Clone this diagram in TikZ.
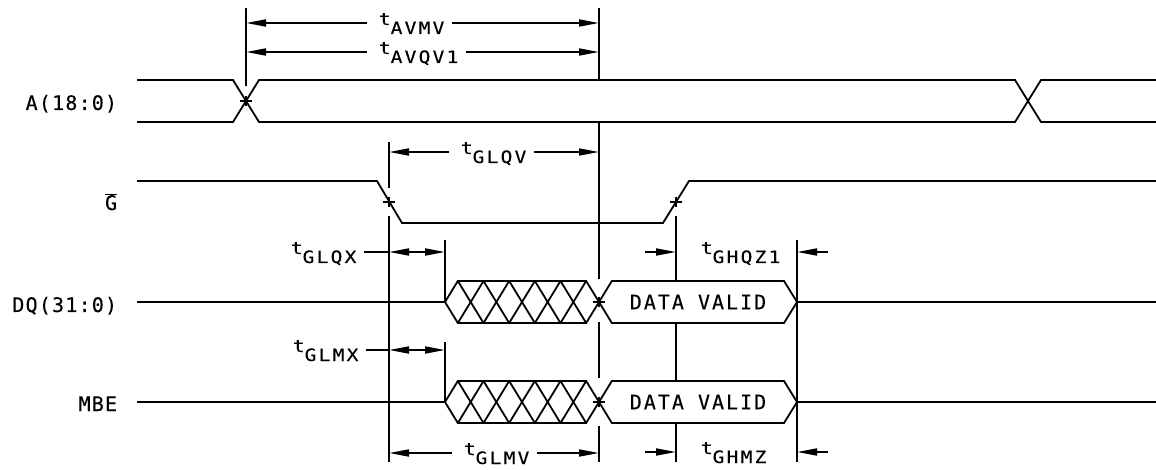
\documentclass[tikz,border=0pt]{standalone}
\usepackage{fontspec}
\usetikzlibrary{arrows.meta,calc}
\newfontfamily\labA{DejaVu Sans Mono}[LetterSpace=6,FakeBold=0.2]
\newfontfamily\labB{DejaVu Sans Mono}[FakeStretch=1.15,LetterSpace=13,FakeBold=0.2]
\newfontfamily\labC{DejaVu Sans Mono}[LetterSpace=10,FakeBold=0.2]
\newcommand\tsub[1]{{\labB\fontsize{17}{17}\selectfont t\raisebox{-9pt}[0pt][0pt]{#1}\rule[-10pt]{0pt}{24pt}}}
\begin{document}
\begin{tikzpicture}[x=1pt,y=-1pt,line width=1.8pt,
  tip/.tip={Triangle[length=20pt,width=7pt]},
  dimarr/.style={-tip},
  dblarr/.style={tip-tip},
  tlab/.style={inner sep=0pt,anchor=west},
  siglab/.style={inner sep=0pt,anchor=base east,font=\labA\fontsize{20}{20}\selectfont},
  dvlab/.style={inner sep=0pt,font=\labC\fontsize{20}{20}\selectfont}]
\useasboundingbox (0,0) rectangle (1156,470);
% reference x positions
\coordinate (xA) at (246,0);
\coordinate (xV) at (599,0);
\coordinate (xG1) at (389,0);
\coordinate (xG2) at (676,0);
\coordinate (xQ) at (445,0);
\coordinate (xZ) at (797,0);
% signal labels
\node[siglab] (lA) at (118,110) {A(18:0)};
\node[siglab] (lG) at (118,210) {$\overline{\mbox{G}}$};
\node[siglab] (lDQ) at (118,312) {DQ(31:0)};
\node[siglab] (lMBE) at (118,411) {MBE};
% A bus
\draw (137,80) -- (233,80) -- (259,122) -- (1015,122) -- (1041,80) -- (1156,80);
\draw (137,122) -- (233,122) -- (259,80) -- (1015,80) -- (1041,122) -- (1156,122);
% G
\draw (137,181) -- (377,181) -- (402,223) -- (663,223) -- (689,181) -- (1156,181);
% data buses
\foreach \yc/\nm in {302/dv1,402/dv2}{
  \draw (137,\yc) -- (445,\yc);
  \draw (445,\yc) -- (457.83,\yc-21) -- (586.17,\yc-21) -- (611.83,\yc+21) -- (784,\yc+21)
        -- (797,\yc) -- (784,\yc-21) -- (611.83,\yc-21) -- (586.17,\yc+21) -- (457.83,\yc+21) -- cycle;
  \foreach \k in {0,...,4}{
    \draw ({445+12.833*(2*\k+1)},\yc-21) -- ({445+12.833*(2*\k+3)},\yc+21);
    \draw ({445+12.833*(2*\k+1)},\yc+21) -- ({445+12.833*(2*\k+3)},\yc-21);
  }
  \draw (797,\yc) -- (1156,\yc);
  \node[dvlab] (\nm) at (698,\yc) {DATA VALID};
}
% crossing markers
\foreach \x/\y in {246/101,389/202,676/202,599/302,599/402}
  \draw (\x-6,\y) -- (\x+6,\y) (\x,\y-5) -- (\x,\y+5);
% reference verticals
\draw (246,8) -- (246,86);
\draw (599,8) -- (599,80) (599,122) -- (599,279) (599,322) -- (599,378) (599,426) -- (599,462);
\draw (389,142) -- (389,188) (389,216) -- (389,462);
\draw (676,216) -- (676,280) (676,323) -- (676,381) (676,423) -- (676,462);
\draw (445,240) -- (445,302) (445,342) -- (445,402);
\draw (797,240) -- (797,462);
% timing labels
\node[tlab] (tAVMV) at (378,23) {\tsub{AVMV}};
\node[tlab] (tAVQV) at (378,52) {\tsub{AVQV1}};
\node[tlab] (tGLQV) at (460,152) {\tsub{GLQV}};
\node[tlab] (tGLQX) at (290,252) {\tsub{GLQX}};
\node[tlab] (tGLMX) at (292,350) {\tsub{GLMX}};
\node[tlab] (tGLMV) at (463,453) {\tsub{GLMV}};
\node[tlab] (tGHQZ) at (700,252) {\tsub{GHQZ1}};
\node[tlab] (tGHMZ) at (700,452) {\tsub{GHMZ}};
% dimension arrows
\foreach \n in {tAVMV,tAVQV}{
  \draw[dimarr] ($(\n.west)+(-11,0)$) -- (\n.west -| xA);
  \draw[dimarr] ($(\n.east)+(7,0)$) -- (\n.east -| xV);
}
\foreach \n in {tGLQV,tGLMV}{
  \draw[dimarr] ($(\n.west)+(-11,0)$) -- (\n.west -| xG1);
  \draw[dimarr] ($(\n.east)+(7,0)$) -- (\n.east -| xV);
}
\foreach \n in {tGLQX,tGLMX}{
  \draw ($(\n.east)+(7,0)$) -- (\n.east -| xG1);
  \draw[dblarr] (\n.east -| xG1) -- (\n.east -| xQ);
}
\foreach \n in {tGHQZ,tGHMZ}{
  \draw[dimarr] ($(\n.west -| xG2)+(-31,0)$) -- (\n.west -| xG2);
  \draw[dimarr] ($(\n.west -| xZ)+(31,0)$) -- (\n.west -| xZ);
}
\end{tikzpicture}
\end{document}
